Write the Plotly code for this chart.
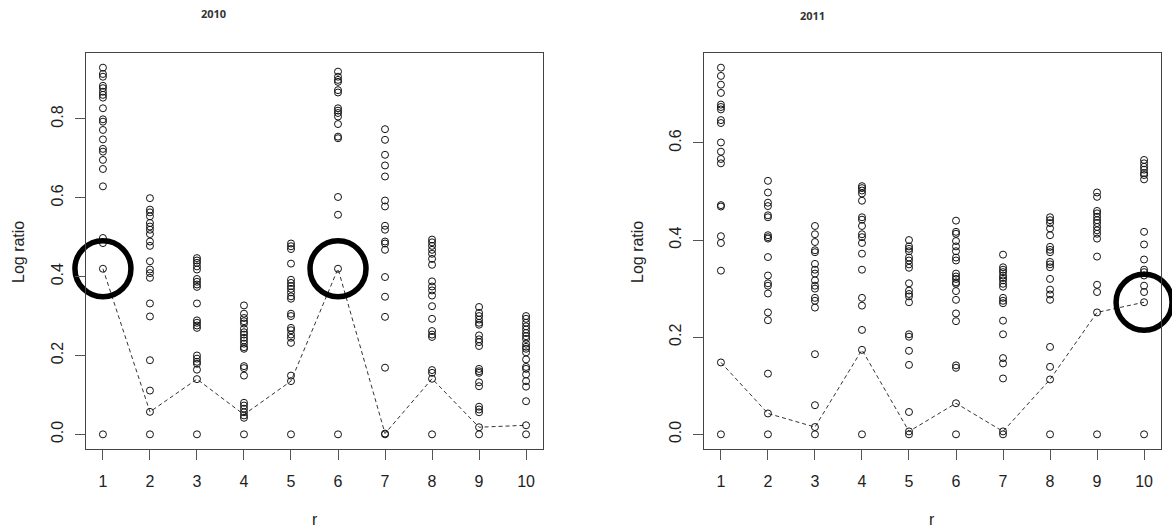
import plotly.graph_objects as go

W, H = 1172, 528

r_ticks = [1, 2, 3, 4, 5, 6, 7, 8, 9, 10]

# 2010 scatter values per r
v2010 = {
    1: [0.930, 0.914, 0.907, 0.884, 0.878, 0.869, 0.861, 0.854, 0.827, 0.799, 0.793, 0.772, 0.748, 0.724, 0.717, 0.696, 0.673, 0.629, 0.498, 0.485, 0.420, 0.0],
    2: [0.599, 0.570, 0.563, 0.553, 0.536, 0.527, 0.519, 0.508, 0.489, 0.478, 0.439, 0.418, 0.409, 0.397, 0.332, 0.299, 0.188, 0.111, 0.057, 0.0],
    3: [0.447, 0.441, 0.435, 0.426, 0.418, 0.394, 0.387, 0.380, 0.374, 0.332, 0.289, 0.283, 0.276, 0.270, 0.200, 0.192, 0.184, 0.179, 0.164, 0.140, 0.0],
    4: [0.327, 0.306, 0.295, 0.287, 0.281, 0.268, 0.259, 0.253, 0.245, 0.238, 0.230, 0.221, 0.217, 0.173, 0.168, 0.149, 0.080, 0.073, 0.065, 0.056, 0.048, 0.042, 0.0],
    5: [0.484, 0.477, 0.470, 0.433, 0.392, 0.384, 0.376, 0.369, 0.360, 0.350, 0.344, 0.306, 0.300, 0.270, 0.264, 0.253, 0.245, 0.232, 0.149, 0.135, 0.0],
    6: [0.920, 0.907, 0.899, 0.894, 0.873, 0.867, 0.827, 0.821, 0.815, 0.806, 0.787, 0.755, 0.751, 0.602, 0.557, 0.420, 0.0],
    7: [0.774, 0.747, 0.709, 0.682, 0.654, 0.593, 0.578, 0.529, 0.519, 0.489, 0.484, 0.468, 0.399, 0.349, 0.298, 0.169, 0.002, 0.0],
    8: [0.494, 0.487, 0.478, 0.468, 0.458, 0.445, 0.430, 0.388, 0.375, 0.365, 0.352, 0.325, 0.293, 0.262, 0.253, 0.247, 0.163, 0.156, 0.141, 0.0],
    9: [0.323, 0.308, 0.300, 0.291, 0.283, 0.278, 0.251, 0.241, 0.234, 0.224, 0.166, 0.160, 0.156, 0.132, 0.122, 0.070, 0.063, 0.056, 0.018, 0.0],
    10: [0.300, 0.293, 0.283, 0.274, 0.266, 0.257, 0.249, 0.242, 0.230, 0.222, 0.217, 0.208, 0.190, 0.171, 0.166, 0.152, 0.135, 0.121, 0.084, 0.023, 0.0],
}
line2010 = [0.420, 0.057, 0.140, 0.050, 0.135, 0.420, 0.002, 0.141, 0.018, 0.023]
highlight2010 = [1, 6]

# 2011 scatter values per r
v2011 = {
    1: [0.755, 0.738, 0.720, 0.703, 0.679, 0.674, 0.669, 0.647, 0.641, 0.601, 0.582, 0.567, 0.558, 0.472, 0.469, 0.408, 0.394, 0.337, 0.148, 0.0],
    2: [0.522, 0.498, 0.477, 0.470, 0.451, 0.447, 0.410, 0.406, 0.403, 0.365, 0.327, 0.311, 0.306, 0.290, 0.251, 0.235, 0.125, 0.043, 0.0],
    3: [0.429, 0.412, 0.396, 0.379, 0.375, 0.351, 0.339, 0.331, 0.317, 0.306, 0.300, 0.281, 0.275, 0.261, 0.165, 0.060, 0.015, 0.0],
    4: [0.511, 0.507, 0.502, 0.496, 0.481, 0.447, 0.442, 0.429, 0.412, 0.406, 0.394, 0.372, 0.339, 0.281, 0.265, 0.215, 0.174, 0.0],
    5: [0.400, 0.387, 0.382, 0.377, 0.364, 0.358, 0.350, 0.343, 0.311, 0.296, 0.289, 0.284, 0.272, 0.206, 0.201, 0.172, 0.143, 0.046, 0.006, 0.0],
    6: [0.440, 0.417, 0.413, 0.398, 0.387, 0.377, 0.364, 0.358, 0.331, 0.325, 0.320, 0.313, 0.310, 0.295, 0.277, 0.249, 0.233, 0.142, 0.137, 0.064, 0.0],
    7: [0.370, 0.344, 0.339, 0.334, 0.327, 0.322, 0.317, 0.310, 0.304, 0.281, 0.275, 0.270, 0.234, 0.206, 0.157, 0.146, 0.115, 0.006, 0.0],
    8: [0.447, 0.441, 0.435, 0.424, 0.410, 0.386, 0.380, 0.375, 0.355, 0.350, 0.344, 0.320, 0.298, 0.288, 0.277, 0.180, 0.139, 0.113, 0.0],
    9: [0.498, 0.489, 0.460, 0.455, 0.448, 0.441, 0.435, 0.427, 0.420, 0.413, 0.403, 0.366, 0.308, 0.293, 0.251, 0.0],
    10: [0.565, 0.558, 0.551, 0.545, 0.538, 0.534, 0.525, 0.417, 0.391, 0.360, 0.339, 0.334, 0.327, 0.306, 0.293, 0.272, 0.0],
}
line2011 = [0.148, 0.043, 0.015, 0.174, 0.006, 0.064, 0.006, 0.113, 0.251, 0.272]
highlight2011 = [10]

y_ticks_2010 = [0.0, 0.2, 0.4, 0.6, 0.8]
y_ticks_2011 = [0.0, 0.2, 0.4, 0.6]

fig = go.Figure()

def add_panel(vals, line, highlight, xa, ya):
    xs, ys = [], []
    for r in r_ticks:
        for v in vals[r]:
            xs.append(r)
            ys.append(v)
    fig.add_trace(go.Scatter(
        x=r_ticks, y=line, mode="lines", xaxis=xa, yaxis=ya,
        line=dict(color="#333333", width=1, dash="4px,3px"),
        hoverinfo="skip", showlegend=False))
    fig.add_trace(go.Scatter(
        x=xs, y=ys, mode="markers", xaxis=xa, yaxis=ya,
        marker=dict(symbol="circle-open", size=7, color="#111111",
                    line=dict(width=1, color="#111111")),
        showlegend=False))
    fig.add_trace(go.Scatter(
        x=highlight, y=[line[r - 1] for r in highlight], mode="markers",
        xaxis=xa, yaxis=ya, cliponaxis=False,
        marker=dict(symbol="circle-open", size=56, color="#000000",
                    line=dict(width=5.5, color="#000000")),
        hoverinfo="skip", showlegend=False))

add_panel(v2010, line2010, highlight2010, "x", "y")
add_panel(v2011, line2011, highlight2011, "x2", "y2")

tick_font = dict(family="Liberation Sans, Arial, sans-serif", size=16, color="#222222")

def xaxis_cfg(domain, anchor):
    return dict(domain=domain, anchor=anchor, range=[0.64, 10.36],
                tickvals=r_ticks, ticktext=[str(t) for t in r_ticks],
                showgrid=False, zeroline=False, showline=True, mirror=True,
                linecolor="#444444", linewidth=1, ticks="outside", ticklen=10,
                tickcolor="#555555", tickfont=tick_font, ticklabelstandoff=8)

def yaxis_cfg(domain, anchor, rng, ticks):
    return dict(domain=domain, anchor=anchor, range=rng,
                tickvals=ticks, ticktext=[f"{t:.1f}" for t in ticks],
                tickangle=-90, showgrid=False, zeroline=False, showline=True,
                mirror=True, linecolor="#444444", linewidth=1, ticks="outside",
                ticklen=10, tickcolor="#555555", tickfont=tick_font,
                ticklabelstandoff=6)

ydom = [(H - 449) / H, (H - 53) / H]
fig.update_layout(
    width=W, height=H,
    margin=dict(l=0, r=0, t=0, b=0),
    paper_bgcolor="white", plot_bgcolor="white",
    xaxis=xaxis_cfg([86 / W, 543 / W], "y"),
    yaxis=yaxis_cfg(ydom, "x", [-0.0372, 0.9672], y_ticks_2010),
    xaxis2=xaxis_cfg([704 / W, 1161 / W], "y2"),
    yaxis2=yaxis_cfg(ydom, "x2", [-0.0302, 0.7852], y_ticks_2011),
)

title_font = dict(family="Open Sans, DejaVu Sans, sans-serif", size=11, color="#333333")
label_font = dict(family="Liberation Sans, Arial, sans-serif", size=16, color="#222222")
annos = [
    dict(text="<b>2010</b>", x=213 / W, y=1 - 14 / H, font=title_font),
    dict(text="<b>2011</b>", x=812 / W, y=1 - 16 / H, font=title_font),
    dict(text="Log ratio", x=18 / W, y=1 - 252 / H, textangle=-90, font=label_font),
    dict(text="Log ratio", x=637 / W, y=1 - 252 / H, textangle=-90, font=label_font),
    dict(text="r", x=315 / W, y=1 - 519 / H, font=label_font),
    dict(text="r", x=932 / W, y=1 - 519 / H, font=label_font),
]
for a in annos:
    a.update(xref="paper", yref="paper", showarrow=False,
             xanchor="center", yanchor="middle")
fig.update_layout(annotations=annos)

fig.write_html(
    "out.html",
    config={"displayModeBar": False},
    post_script="document.body.style.margin='0';document.body.style.padding='0';document.body.style.overflow='hidden';",
)
